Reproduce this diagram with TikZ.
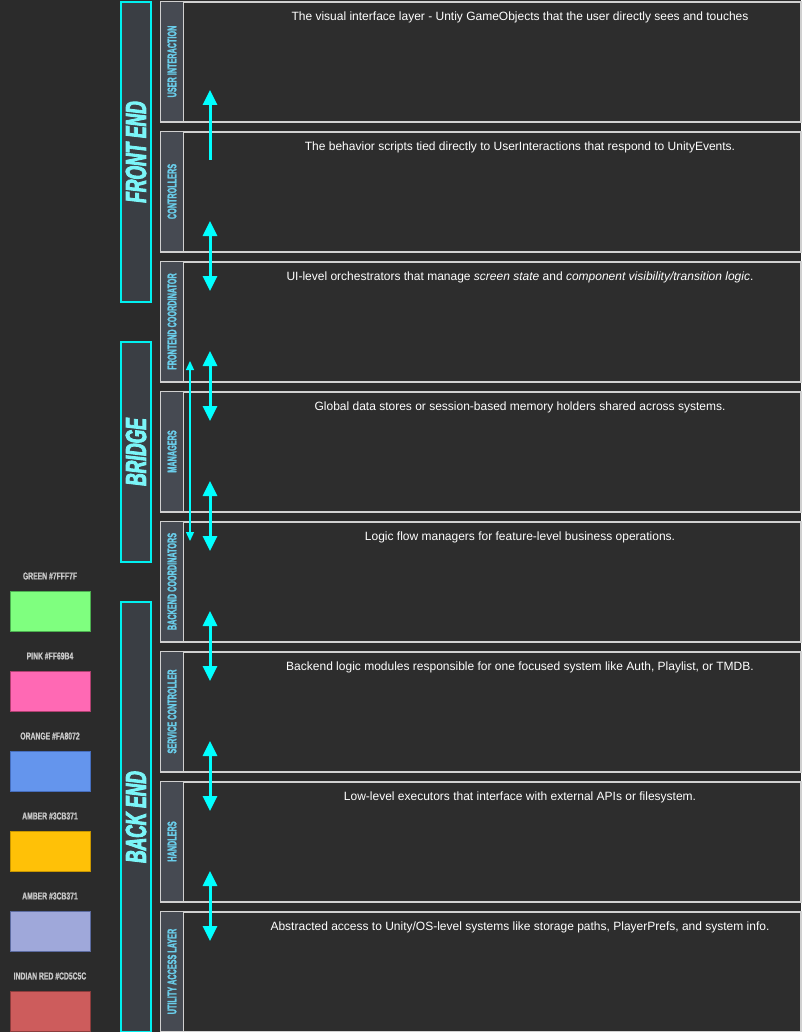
\documentclass[tikz,border=0pt]{standalone}
\usepackage{fontspec}
\setmainfont{Liberation Sans}
\newfontfamily\rowlabfont[FakeStretch=0.58,FakeBold=1.5]{Liberation Sans Bold}
\newfontfamily\grpfont[FakeStretch=0.6,FakeBold=3]{Liberation Sans Bold Italic}
\newfontfamily\swfont[FakeStretch=0.68,FakeBold=1]{Liberation Sans Bold}
\usetikzlibrary{arrows.meta}
\definecolor{bgc}{HTML}{2B2B2B}
\definecolor{rowfill}{HTML}{2D2D2D}
\definecolor{labfill}{HTML}{464A52}
\definecolor{grpfill}{HTML}{3A3E44}
\definecolor{rowborder}{HTML}{D0D0D0}
\definecolor{cyanline}{HTML}{00F0F0}
\definecolor{grptext}{HTML}{7AF5F8}
\definecolor{labtext}{HTML}{6ACDEA}
\definecolor{swtext}{HTML}{C8C8C8}
\definecolor{arrowc}{HTML}{00FFFF}
\tikzset{
  rowbox/.style={draw=rowborder, line width=1.6pt, fill=rowfill, anchor=north west,
    minimum width=640pt, minimum height=120pt, inner sep=0pt},
  labbox/.style={draw=rowborder, line width=1pt, fill=labfill, anchor=north west,
    minimum width=23pt, minimum height=120pt, inner sep=0pt},
  labtxt/.style={rotate=90, text=labtext, font=\rowlabfont\fontsize{12.5}{14}\selectfont, inner sep=0pt},
  desc/.style={text=white, font=\fontsize{12}{14}\selectfont, inner sep=0pt},
  grpbox/.style={draw=cyanline, line width=2pt, fill=grpfill, anchor=north west,
    minimum width=30pt, inner sep=0pt},
  grptxt/.style={rotate=90, text=grptext, font=\grpfont\fontsize{29}{30}\selectfont, inner sep=0pt},
  swatch/.style={minimum width=80pt, minimum height=40pt, inner sep=0pt, line width=1pt},
  swlab/.style={text=swtext, font=\swfont\fontsize{10}{12}\selectfont, inner sep=0pt},
  bigarrow/.style={draw=arrowc, line width=3pt},
  bothtips/.style={{Triangle[width=14pt,length=15pt]}-{Triangle[width=14pt,length=15pt]}},
  uptip/.style={-{Triangle[width=14pt,length=15pt]}},
  thinarrow/.style={draw=arrowc, line width=1.3pt, {Triangle[width=8pt,length=9pt]}-{Triangle[width=8pt,length=9pt]}}
}
\begin{document}
\begin{tikzpicture}[x=1pt,y=-1pt]
\useasboundingbox (0,0) rectangle (801,1032);
\fill[bgc] (0,0) rectangle (801,1032);

% group boxes
\node[grpbox, minimum height=300pt] (gfront) at (120,1) {};
\node[grptxt] (gfrontt) at (gfront.center) {FRONT END};
\node[grpbox, minimum height=220pt] (gbridge) at (120,341) {};
\node[grptxt] (gbridget) at (gbridge.center) {BRIDGE};
\node[grpbox, minimum height=430pt] (gback) at (120,601) {};
\node[grptxt] (gbackt) at (gback.center) {BACK END};

% rows
\foreach \i/\top/\lab in {1/1/USER INTERACTION, 2/131/CONTROLLERS, 3/261/FRONTEND COORDINATOR,
  4/391/MANAGERS, 5/521/BACKEND COORDINATORS, 6/651/SERVICE CONTROLLER, 7/781/HANDLERS,
  8/911/UTILITY ACCESS LAYER}{
  \node[rowbox] (r\i) at (160,\top) {};
  \node[labbox] (l\i) at (160,\top) {};
  \node[labtxt] (lt\i) at (l\i.center) {\lab};
}

\node[desc] (d1) at (520,17.5) {The visual interface layer - Untiy GameObjects that the user directly sees and touches};
\node[desc] (d2) at (520,147.5) {The behavior scripts tied directly to UserInteractions that respond to UnityEvents.};
\node[desc] (d3) at (520,277.5) {UI-level orchestrators that manage \textit{screen state} and \textit{component visibility/transition logic}.};
\node[desc] (d4) at (520,407.5) {Global data stores or session-based memory holders shared across systems.};
\node[desc] (d5) at (520,537.5) {Logic flow managers for feature-level business operations.};
\node[desc] (d6) at (520,667.5) {Backend logic modules responsible for one focused system like Auth, Playlist, or TMDB.};
\node[desc] (d7) at (520,797.5) {Low-level executors that interface with external APIs or filesystem.};
\node[desc] (d8) at (520,927.5) {Abstracted access to Unity/OS-level systems like storage paths, PlayerPrefs, and system info.};

% arrows
\coordinate (a1s) at (210,160);
\coordinate (a1e) at (210,90);
\draw[bigarrow, uptip] (a1s) -- (a1e);
\foreach \k/\yt in {2/221,3/351,4/481,5/611,6/741,7/871}{
  \coordinate (a\k s) at (210,\yt);
  \coordinate (a\k e) at (210,\yt+70);
  \draw[bigarrow, bothtips] (a\k s) -- (a\k e);
}
\coordinate (ts) at (190,361);
\coordinate (te) at (190,541);
\draw[thinarrow] (ts) -- (te);

% swatches
\node[swlab] (s1l) at (50,576) {GREEN \#7FFF7F};
\node[swatch, fill={rgb,255:red,127;green,255;blue,127}, draw={rgb,255:red,76;green,175;blue,80}] (s1) at (50,611) {};
\node[swlab] (s2l) at (50,656) {PINK \#FF69B4};
\node[swatch, fill={rgb,255:red,255;green,105;blue,180}, draw={rgb,255:red,176;green,64;blue,112}] (s2) at (50,691) {};
\node[swlab] (s3l) at (50,736) {ORANGE \#FA8072};
\node[swatch, fill={rgb,255:red,100;green,149;blue,237}, draw={rgb,255:red,70;green,110;blue,190}] (s3) at (50,771) {};
\node[swlab] (s4l) at (50,816) {AMBER \#3CB371};
\node[swatch, fill={rgb,255:red,255;green,193;blue,7}, draw={rgb,255:red,200;green,150;blue,0}] (s4) at (50,851) {};
\node[swlab] (s5l) at (50,896) {AMBER \#3CB371};
\node[swatch, fill={rgb,255:red,159;green,168;blue,218}, draw={rgb,255:red,92;green,107;blue,160}] (s5) at (50,931) {};
\node[swlab] (s6l) at (50,976) {INDIAN RED \#CD5C5C};
\node[swatch, fill={rgb,255:red,205;green,92;blue,92}, draw={rgb,255:red,140;green,60;blue,60}] (s6) at (50,1011) {};
\end{tikzpicture}
\end{document}
